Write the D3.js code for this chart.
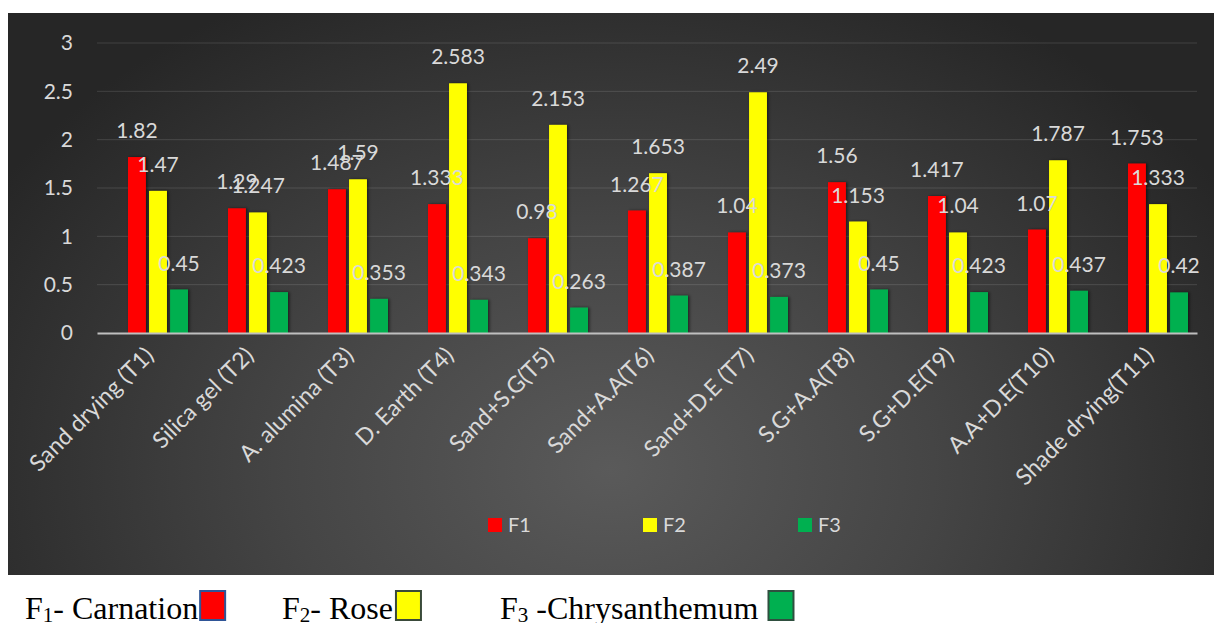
<!DOCTYPE html>
<html>
<head>
<meta charset="utf-8">
<script src="https://cdn.jsdelivr.net/npm/d3@7"></script>
<style>
  html, body { margin: 0; padding: 0; background: #ffffff; }
  svg { display: block; }
</style>
</head>
<body>
<svg id="chart" width="1214" height="623"></svg>
<script>
// Treatments on the category axis
const categories = [
  "Sand drying (T1)", "Silica gel (T2)", "A. alumina (T3)", "D. Earth (T4)",
  "Sand+S.G(T5)", "Sand+A.A(T6)", "Sand+D.E (T7)", "S.G+A.A(T8)",
  "S.G+D.E(T9)", "A.A+D.E(T10)", "Shade drying(T11)"
];
// Series per flower
const seriesNames = ["F1", "F2", "F3"];
const f1Values = [1.82, 1.29, 1.487, 1.333, 0.98, 1.267, 1.04, 1.56, 1.417, 1.07, 1.753];
const f2Values = [1.47, 1.247, 1.59, 2.583, 2.153, 1.653, 2.49, 1.153, 1.04, 1.787, 1.333];
const f3Values = [0.45, 0.423, 0.353, 0.343, 0.263, 0.387, 0.373, 0.45, 0.423, 0.437, 0.42];
const seriesColors = ["#ff0000", "#ffff00", "#00b050"];
// Value axis ticks
const yTicks = [0, 0.5, 1, 1.5, 2, 2.5, 3];
const yTickLabels = ["0", "0.5", "1", "1.5", "2", "2.5", "3"];
// Caption below the chart
const captionItems = [
  { lead: "F", sub: "1", rest: "- Carnation", gap: 2, fill: "#ff0000", stroke: "#2f5597" },
  { lead: "F", sub: "2", rest: "- Rose", gap: 3, fill: "#ffff00", stroke: "#3a4a3a" },
  { lead: "F", sub: "3", rest: " -Chrysanthemum", gap: 10, fill: "#00b050", stroke: "#2f4f3f" }
];

const seriesValues = [f1Values, f2Values, f3Values];
const rows = categories.map((c, i) => ({
  category: c,
  values: seriesNames.map((s, k) => ({ series: s, value: seriesValues[k][i], color: seriesColors[k] }))
}));

const svg = d3.select("#chart");
const defs = svg.append("defs");

// Dark panel with a soft radial light in the middle
const grad = defs.append("radialGradient")
  .attr("id", "panelGrad")
  .attr("gradientUnits", "userSpaceOnUse")
  .attr("cx", 610).attr("cy", 470).attr("r", 720)
  .attr("gradientTransform", "translate(610,470) scale(1,0.75) translate(-610,-470)");
grad.append("stop").attr("offset", "0").attr("stop-color", "#5a5a5a");
grad.append("stop").attr("offset", "0.45").attr("stop-color", "#454545");
grad.append("stop").attr("offset", "1").attr("stop-color", "#262626");

const shadow = defs.append("filter").attr("id", "barShadow")
  .attr("x", "-30%").attr("y", "-10%").attr("width", "160%").attr("height", "120%");
shadow.append("feDropShadow")
  .attr("dx", 1.5).attr("dy", 0).attr("stdDeviation", 1.5)
  .attr("flood-color", "#000").attr("flood-opacity", 0.55);

svg.append("rect")
  .attr("x", 8).attr("y", 13).attr("width", 1206).attr("height", 562)
  .attr("fill", "url(#panelGrad)");

// Scales
const plotLeft = 97, plotRight = 1197, plotTop = 43, plotBottom = 333;
const x = d3.scaleBand().domain(categories).range([plotLeft, plotRight]);
const xs = d3.scaleBand().domain(seriesNames)
  .range([x.bandwidth() * 0.31, x.bandwidth() * 0.91])
  .paddingInner(0.15);
const y = d3.scaleLinear().domain([0, 3]).range([plotBottom, plotTop]);

const numFont = "Lato, 'Open Sans', sans-serif";
const textColor = "#d9d9d9";

// Gridlines
svg.append("g")
  .selectAll("line")
  .data(yTicks.filter(t => t > 0))
  .join("line")
  .attr("x1", plotLeft).attr("x2", plotRight)
  .attr("y1", d => y(d)).attr("y2", d => y(d))
  .attr("stroke", "#ffffff").attr("stroke-opacity", 0.13).attr("stroke-width", 1);

// Value axis labels
const yAxis = svg.append("g")
  .attr("transform", `translate(${plotLeft},0)`)
  .call(d3.axisLeft(y).tickValues(yTicks).tickSize(0).tickPadding(24)
    .tickFormat((d, i) => yTickLabels[i]));
yAxis.select(".domain").remove();
yAxis.selectAll("text")
  .attr("fill", textColor)
  .style("font-family", numFont)
  .style("font-size", "21px");

// Bars
const groups = svg.append("g")
  .selectAll("g")
  .data(rows)
  .join("g")
  .attr("transform", d => `translate(${x(d.category)},0)`);

groups.selectAll("rect")
  .data(d => d.values)
  .join("rect")
  .attr("x", d => xs(d.series))
  .attr("width", xs.bandwidth())
  .attr("y", d => y(d.value))
  .attr("height", d => y(0) - y(d.value))
  .attr("fill", d => d.color)
  .attr("filter", "url(#barShadow)");

// Category axis baseline and rotated labels
const xAxis = svg.append("g")
  .attr("transform", `translate(0,${plotBottom})`)
  .call(d3.axisBottom(x).tickSize(0));
xAxis.select(".domain")
  .attr("stroke", "#bfbfbf").attr("stroke-width", 2);
xAxis.selectAll("text")
  .attr("fill", textColor)
  .attr("x", 0).attr("y", 0).attr("dy", null)
  .attr("text-anchor", "end")
  .attr("transform", "translate(8,24) rotate(-45)")
  .style("font-family", numFont)
  .style("font-size", "23px");

// Data labels, drawn series by series so later series sit on top
seriesNames.forEach((s, k) => {
  svg.append("g")
    .selectAll("text")
    .data(rows.map(r => ({ category: r.category, value: r.values[k].value })))
    .join("text")
    .attr("x", d => x(d.category) + xs(s) + xs.bandwidth() / 2)
    .attr("y", d => y(d.value) - 19)
    .attr("text-anchor", "middle")
    .attr("fill", textColor)
    .style("font-family", numFont)
    .style("font-size", "21px")
    .text(d => String(d.value));
});

// Series legend inside the panel
const legendX = [488, 643, 798];
const legend = svg.append("g")
  .selectAll("g")
  .data(seriesNames)
  .join("g")
  .attr("transform", (d, i) => `translate(${legendX[i]},518)`);
legend.append("rect")
  .attr("width", 14).attr("height", 14)
  .attr("fill", (d, i) => seriesColors[i]);
legend.append("text")
  .attr("x", 20).attr("y", 7).attr("dy", "0.36em")
  .attr("fill", textColor)
  .style("font-family", numFont)
  .style("font-size", "20px")
  .text(d => d);

// Caption with flower names below the panel
const captionX = [25, 282, 500];
const captionFont = "'Liberation Serif', 'Times New Roman', serif";
captionItems.forEach((item, i) => {
  const t = svg.append("text")
    .attr("x", captionX[i]).attr("y", 619)
    .attr("fill", "#000")
    .style("font-family", captionFont)
    .style("font-size", "32px");
  t.append("tspan").text(item.lead);
  t.append("tspan").attr("dy", 3).style("font-size", "21px").text(item.sub);
  t.append("tspan").attr("dy", -3).text(item.rest);
  const w = t.node().getComputedTextLength();
  svg.append("rect")
    .attr("x", captionX[i] + w + item.gap).attr("y", 591)
    .attr("width", 25).attr("height", 29)
    .attr("fill", item.fill)
    .attr("stroke", item.stroke).attr("stroke-width", 2);
});
</script>
</body>
</html>
